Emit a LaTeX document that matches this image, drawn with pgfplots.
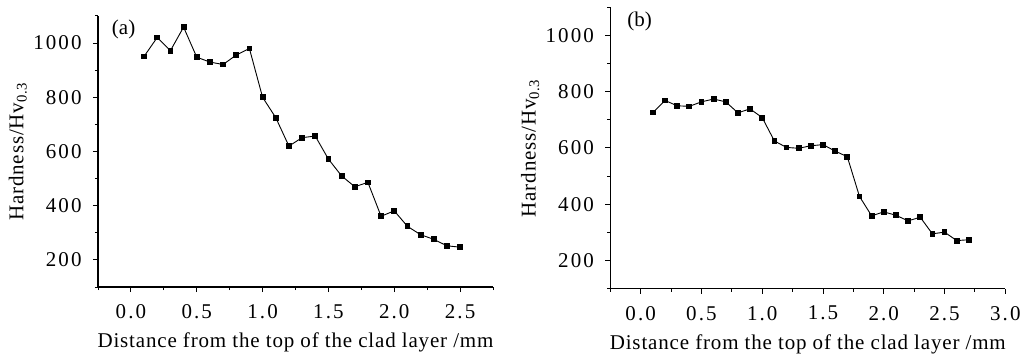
\documentclass[border=0pt]{standalone}
\usepackage{fontspec}
\setmainfont{Liberation Serif}
\newfontfamily\tickfont[LetterSpace=10]{Liberation Serif}
\newfontfamily\labfont[LetterSpace=4]{Liberation Serif}
\usepackage{pgfplots}
\pgfplotsset{compat=1.18}
\pgfplotstableread{
x y
0.1 951
0.2 1021
0.3 972
0.4 1059
0.5 948
0.6 930
0.7 921
0.8 956
0.9 980
1.0 800
1.1 725
1.2 620
1.3 651
1.4 657
1.5 572
1.6 510
1.7 470
1.8 486
1.9 361
2.0 381
2.1 324
2.2 293
2.3 276
2.4 252
2.5 247
}\dataA
\pgfplotstableread{
x y
0.1 726
0.2 769
0.3 750
0.4 748
0.5 764
0.6 774
0.7 764
0.8 725
0.9 739
1.0 708
1.1 625
1.2 602
1.3 599
1.4 608
1.5 612
1.6 589
1.7 569
1.8 428
1.9 359
2.0 373
2.1 361
2.2 341
2.3 354
2.4 295
2.5 301
2.6 271
2.7 274
}\dataB
\pgfplotsset{
  hard/.style={
    scale only axis,
    axis lines*=left,
    axis line style={line width=0.6bp},
    tick align=outside,
    tick style={line width=0.5bp,black},
    major tick length=2.5bp,
    minor tick length=1.5bp,
    ymin=100, ymax=1100,
    ytick={200,400,600,800,1000},
    minor ytick={100,300,500,700,900,1100},
    /pgf/number format/assume math mode=true,
    /pgf/number format/1000 sep={},
    tick label style={font=\tickfont},
    xticklabel style={/pgf/number format/fixed,/pgf/number format/fixed zerofill,/pgf/number format/precision=1,yshift=-2.5bp},
    yticklabel style={xshift=-2bp},
    label style={font=\labfont},
    ylabel style={yshift=-4bp},
    xlabel={Distance from the top of the clad layer /mm},
    ylabel={Hardness/Hv\textsubscript{0.3}},
    clip=false,
  },
  dat/.style={black, line width=0.45bp, mark=square*, mark size=1.2bp, mark options={solid,fill=black}},
}
\begin{document}
\fontsize{10.5bp}{12.6bp}\selectfont
\begin{tikzpicture}
\path[use as bounding box] (0,0) rectangle (512bp,179bp);
\begin{axis}[hard,
  at={(49bp,35.5bp)}, anchor=south west,
  width=197.5bp, height=135.5bp,
  xmin=-0.25, xmax=2.75,
  xtick={0,0.5,1,1.5,2,2.5},
  minor xtick={-0.25,0.25,0.75,1.25,1.75,2.25,2.75},
]
\addplot[dat] table[x=x,y=y] {\dataA};
\node[anchor=west] at (axis cs:-0.2,1052) {(a)};
\end{axis}
\begin{axis}[hard,
  at={(305.15bp,34.65bp)}, anchor=south west,
  width=197.5bp, height=140.7bp,
  xmin=-0.25, xmax=3.0,
  xtick={0,0.5,1,1.5,2,2.5,3},
  minor xtick={-0.25,0.25,0.75,1.25,1.75,2.25,2.75},
]
\addplot[dat] table[x=x,y=y] {\dataB};
\node[anchor=west] at (axis cs:-0.17,1050) {(b)};
\end{axis}
\end{tikzpicture}
\end{document}
